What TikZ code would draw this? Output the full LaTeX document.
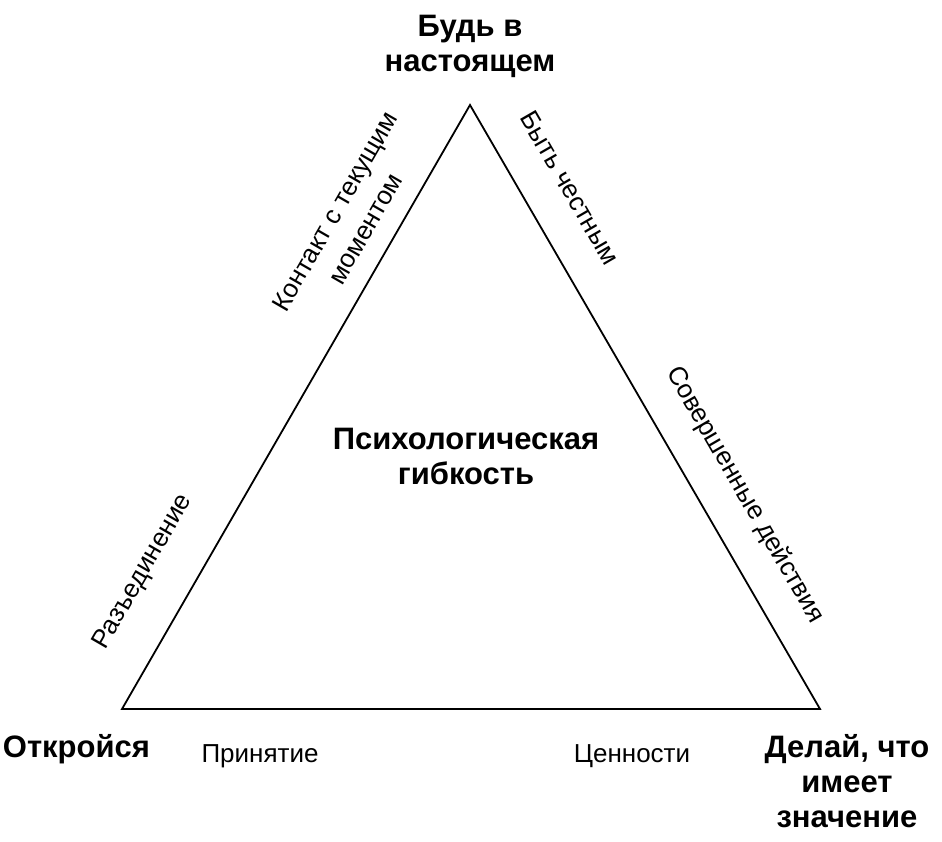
\documentclass[tikz,border=0pt]{standalone}
\usepackage{fontspec}
\setmainfont{Liberation Sans}
\usetikzlibrary{positioning}
\tikzstyle{corner} = [font=\bfseries\fontsize{31}{35}\selectfont, align=center, inner sep=0pt]
\tikzstyle{facet} = [font=\fontsize{26}{35}\selectfont, align=center, inner sep=0pt]

\begin{document}
\begin{tikzpicture}[x=1pt,y=-1pt,line width=1.8pt]
  \useasboundingbox (0,0) rectangle (942,842);
  \coordinate (top) at (470,105);
  \coordinate (left) at (122,709);
  \coordinate (right) at (820,709);
  \draw [line join=miter] (top) -- (left) -- (right) -- cycle;
  \node [corner, anchor=base] (present) at (470,72) {Будь в\\настоящем};
  \node [corner, anchor=base west] (open) at (2,757) {Откройся};
  \node [corner, anchor=base] (matter) at (847,827) {Делай, что\\имеет\\значение};
  \node [corner, anchor=base] (flex) at (466,484) {Психологическая\\гибкость};
  \node [facet, anchor=base] (accept) at (260,762) {Принятие};
  \node [facet, anchor=base] (values) at (632,762) {Ценности};
  \node [facet, rotate=60] (contact) at (350,220) {Контакт с текущим\\моментом};
  \node [facet, rotate=60] (defuse) at (143,572) {Разъединение};
  \node [facet, rotate=-60] (honest) at (570,188) {Быть честным};
  \node [facet, rotate=-60] (commit) at (745,495) {Совершенные действия};
\end{tikzpicture}
\end{document}
